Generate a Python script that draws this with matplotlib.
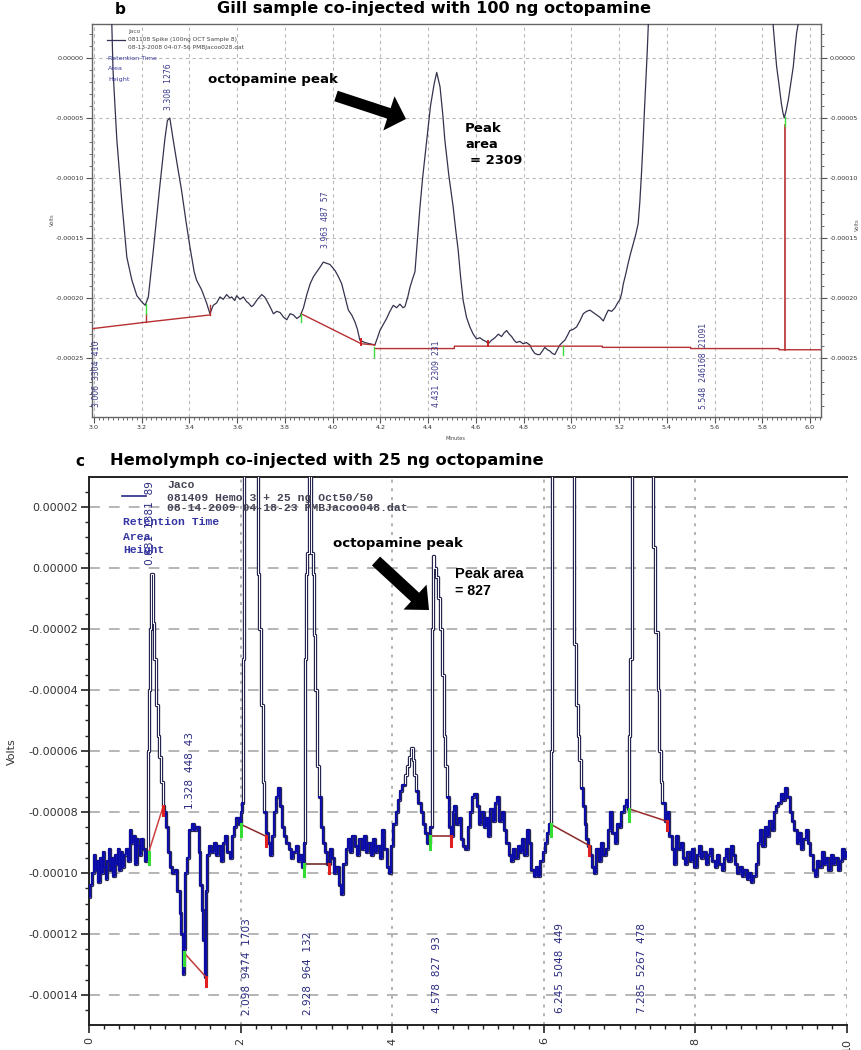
import numpy as np
import matplotlib
matplotlib.use("Agg")
import matplotlib.pyplot as plt
from matplotlib.ticker import MultipleLocator, FuncFormatter
from matplotlib.patches import FancyArrow

# ------------------------------------------------------------------
# DATA  (time in minutes, signal in microvolts)
# ------------------------------------------------------------------
# Panel b : gill sample
b_time = [3.060, 3.075, 3.080, 3.096, 3.117, 3.138, 3.159, 3.180, 3.200, 3.215,
          3.228, 3.249, 3.276, 3.297, 3.308, 3.318, 3.332, 3.350, 3.367, 3.385,
          3.402, 3.420, 3.430, 3.451, 3.472, 3.486, 3.500, 3.514, 3.528, 3.542,
          3.556, 3.570, 3.577, 3.590, 3.598, 3.612, 3.626, 3.640, 3.647, 3.660,
          3.668, 3.685, 3.703, 3.715, 3.724, 3.740, 3.752, 3.766, 3.780, 3.795,
          3.808, 3.822, 3.836, 3.850, 3.864, 3.878, 3.892, 3.906, 3.920, 3.934,
          3.948, 3.961, 3.975, 3.989, 4.010, 4.024, 4.038, 4.052, 4.066, 4.080,
          4.094, 4.104, 4.114, 4.125, 4.135, 4.156, 4.177, 4.188, 4.198, 4.212,
          4.226, 4.240, 4.254, 4.268, 4.282, 4.295, 4.303, 4.315, 4.324, 4.335,
          4.345, 4.356, 4.366, 4.377, 4.387, 4.398, 4.410, 4.425, 4.436, 4.450,
          4.462, 4.470, 4.487, 4.505, 4.515, 4.526, 4.536, 4.547, 4.561, 4.575,
          4.589, 4.603, 4.617, 4.631, 4.642, 4.652, 4.666, 4.680, 4.694, 4.708,
          4.718, 4.729, 4.740, 4.750, 4.760, 4.770, 4.784, 4.798, 4.812, 4.826,
          4.836, 4.847, 4.858, 4.868, 4.879, 4.889, 4.900, 4.910, 4.920, 4.931,
          4.941, 4.952, 4.962, 4.973, 4.984, 4.994, 5.008, 5.022, 5.036, 5.050,
          5.064, 5.078, 5.092, 5.106, 5.120, 5.134, 5.145, 5.155, 5.169, 5.183,
          5.194, 5.204, 5.211, 5.218, 5.228, 5.238, 5.248, 5.259, 5.270, 5.280,
          5.287, 5.294, 5.301, 5.306, 5.312, 5.318, 5.325, 5.330, 5.550, 5.840,
          5.846, 5.853, 5.860, 5.870, 5.880, 5.886, 5.892, 5.900, 5.909, 5.920,
          5.930, 5.937, 5.944, 5.952, 5.960]
b_signal_uV = [120, 28, -10, -68, -120, -166, -185, -198, -203, -206,
               -199, -160, -107, -68, -52, -50, -68, -90, -110, -135,
               -157, -178, -185, -193, -204, -213, -206, -204, -199, -201,
               -197, -200, -199, -202, -198, -201, -199, -203, -204, -207,
               -206, -201, -197, -199, -202, -208, -213, -211, -212, -216,
               -218, -213, -214, -217, -215, -208, -197, -188, -182, -178,
               -174, -170, -171, -172, -177, -182, -188, -199, -210, -214,
               -220, -226, -235, -236, -237, -238, -239, -233, -227, -222,
               -217, -211, -206, -208, -205, -208, -207, -199, -191, -184,
               -178, -150, -124, -100, -82, -62, -40, -22, -12, -24,
               -48, -68, -98, -124, -142, -160, -182, -202, -216, -224,
               -230, -234, -233, -235, -236, -238, -235, -233, -230, -232,
               -229, -227, -230, -232, -235, -237, -236, -238, -237, -239,
               -243, -246, -247, -247, -244, -241, -243, -244, -246, -247,
               -243, -239, -237, -235, -231, -227, -226, -224, -219, -213,
               -211, -210, -212, -214, -216, -219, -214, -210, -211, -208,
               -204, -201, -196, -188, -180, -171, -163, -155, -147, -138,
               -120, -96, -68, -45, -20, 5, 40, 80, 3000, 80,
               26, 10, -7, -22, -38, -45, -50, -44, -35, -20,
               -7, 8, 21, 30, 80]
b_base_time = [2.990, 3.220, 3.486, np.nan, 3.868, 4.120, 4.177, np.nan,
               4.177, 4.510, 4.510, 5.130, 5.130, 5.500, 5.500, 5.870, 5.870, 6.050]
b_base_uV = [-225.5, -220, -214, np.nan, -213, -238, -239, np.nan,
             -242, -242, -240, -240, -241, -241, -242, -242, -243, -243]
b_rt = [3.006, 3.308, 3.963, 4.431, 5.548]
b_area = ["3304", "1276", "487", "2309", "246168"]
b_height = ["410", "", "57", "231", "21091"]

# Panel c : hemolymph
c_time = [0.00, 0.02, 0.05, 0.07, 0.09, 0.11, 0.13, 0.15, 0.17, 0.19,
          0.21, 0.23, 0.25, 0.27, 0.29, 0.31, 0.33, 0.35, 0.37, 0.39,
          0.41, 0.43, 0.45, 0.47, 0.50, 0.53, 0.55, 0.57, 0.60, 0.62,
          0.64, 0.66, 0.68, 0.70, 0.72, 0.75, 0.77, 0.78, 0.79, 0.81,
          0.83, 0.85, 0.87, 0.89, 0.92, 0.94, 0.96, 0.98, 1.00, 1.03,
          1.05, 1.08, 1.11, 1.15, 1.18, 1.21, 1.23, 1.25, 1.26, 1.28,
          1.31, 1.34, 1.37, 1.40, 1.43, 1.46, 1.48, 1.50, 1.52, 1.54,
          1.55, 1.57, 1.60, 1.63, 1.66, 1.69, 1.72, 1.75, 1.78, 1.81,
          1.84, 1.87, 1.90, 1.93, 1.96, 1.99, 2.01, 2.03, 2.04, 2.05,
          2.22, 2.23, 2.26, 2.28, 2.30, 2.32, 2.34, 2.37, 2.40, 2.42,
          2.45, 2.48, 2.51, 2.54, 2.56, 2.59, 2.62, 2.65, 2.68, 2.71,
          2.74, 2.77, 2.80, 2.82, 2.84, 2.85, 2.87, 2.89, 2.92, 2.95,
          2.96, 2.97, 3.00, 3.02, 3.05, 3.07, 3.10, 3.13, 3.16, 3.19,
          3.22, 3.25, 3.28, 3.31, 3.34, 3.37, 3.40, 3.43, 3.46, 3.49,
          3.52, 3.55, 3.58, 3.61, 3.64, 3.67, 3.70, 3.73, 3.76, 3.79,
          3.82, 3.85, 3.88, 3.91, 3.94, 3.97, 4.00, 4.03, 4.06, 4.09,
          4.12, 4.15, 4.18, 4.21, 4.24, 4.26, 4.28, 4.30, 4.33, 4.36,
          4.39, 4.42, 4.45, 4.48, 4.51, 4.53, 4.54, 4.56, 4.59, 4.62,
          4.65, 4.67, 4.69, 4.71, 4.74, 4.77, 4.79, 4.81, 4.83, 4.86,
          4.89, 4.92, 4.95, 4.98, 5.01, 5.04, 5.07, 5.10, 5.13, 5.16,
          5.19, 5.22, 5.25, 5.28, 5.31, 5.34, 5.37, 5.40, 5.43, 5.46,
          5.49, 5.52, 5.55, 5.58, 5.61, 5.64, 5.67, 5.70, 5.73, 5.76,
          5.79, 5.82, 5.85, 5.88, 5.91, 5.94, 5.97, 6.00, 6.03, 6.06,
          6.08, 6.10, 6.12, 6.39, 6.40, 6.41, 6.43, 6.46, 6.48, 6.50,
          6.53, 6.55, 6.57, 6.60, 6.62, 6.65, 6.68, 6.71, 6.74, 6.77,
          6.80, 6.83, 6.86, 6.89, 6.92, 6.95, 6.98, 7.01, 7.04, 7.07,
          7.10, 7.12, 7.13, 7.15, 7.17, 7.43, 7.44, 7.49, 7.51, 7.53,
          7.55, 7.58, 7.61, 7.64, 7.67, 7.70, 7.73, 7.76, 7.79, 7.82,
          7.85, 7.88, 7.91, 7.94, 7.97, 8.00, 8.03, 8.06, 8.09, 8.12,
          8.15, 8.18, 8.21, 8.24, 8.27, 8.30, 8.33, 8.36, 8.39, 8.42,
          8.45, 8.48, 8.51, 8.54, 8.57, 8.60, 8.63, 8.66, 8.69, 8.72,
          8.75, 8.78, 8.81, 8.84, 8.87, 8.90, 8.93, 8.96, 8.99, 9.02,
          9.05, 9.08, 9.11, 9.14, 9.17, 9.20, 9.23, 9.26, 9.29, 9.32,
          9.35, 9.38, 9.41, 9.44, 9.47, 9.50, 9.53, 9.56, 9.59, 9.62,
          9.65, 9.68, 9.71, 9.74, 9.77, 9.80, 9.83, 9.86, 9.89, 9.92,
          9.95, 9.98, 10.0]
c_signal_uV = [-108, -104, -100, -94, -99, -96, -103, -95, -100, -93,
               -98, -102, -96, -92, -99, -95, -101, -94, -97, -92,
               -99, -93, -98, -94, -92, -96, -86, -90, -88, -97,
               -89, -91, -94, -89, -92, -96, -93, -60, -40, -20,
               -2, -18, -30, -45, -55, -62, -70, -78, -80, -85,
               -93, -98, -100, -99, -106, -113, -120, -133, -125, -100,
               -95, -86, -84, -86, -85, -93, -104, -112, -122, -134,
               -106, -94, -91, -93, -90, -94, -91, -96, -90, -88,
               -93, -95, -88, -85, -82, -84, -80, -77, -30, 200,
               200, -2, -20, -45, -70, -80, -87, -90, -94, -88,
               -80, -75, -72, -78, -85, -88, -90, -92, -95, -93,
               -91, -96, -94, -98, -90, -30, -2, 5, 200, 5,
               -2, -22, -40, -65, -75, -85, -90, -93, -97, -92,
               -95, -100, -98, -104, -107, -97, -92, -89, -93, -88,
               -91, -94, -89, -92, -88, -93, -90, -94, -89, -93,
               -91, -95, -86, -92, -98, -100, -91, -84, -80, -76,
               -73, -71, -68, -65, -62, -59, -63, -68, -73, -77,
               -80, -84, -87, -90, -85, -20, 4, 0, -3, -10,
               -20, -35, -55, -65, -75, -85, -88, -80, -78, -84,
               -82, -89, -91, -92, -85, -80, -75, -74, -78, -84,
               -80, -85, -82, -88, -79, -83, -77, -75, -83, -80,
               -86, -90, -94, -96, -92, -95, -91, -93, -89, -94,
               -86, -90, -99, -101, -98, -101, -96, -93, -90, -87,
               -84, -60, 200, 200, -5, -25, -45, -55, -63, -72,
               -78, -84, -89, -91, -94, -98, -100, -92, -96, -90,
               -94, -92, -86, -80, -87, -90, -84, -85, -80, -78,
               -76, -79, -55, -30, 200, 200, 7, -21, -40, -60,
               -70, -77, -83, -80, -88, -92, -97, -88, -92, -90,
               -95, -97, -93, -96, -92, -98, -94, -91, -95, -93,
               -97, -94, -92, -96, -98, -94, -97, -99, -95, -92,
               -96, -91, -94, -97, -100, -98, -101, -99, -102, -100,
               -103, -101, -97, -90, -86, -91, -85, -88, -83, -86,
               -80, -78, -77, -74, -76, -72, -75, -80, -83, -86,
               -90, -87, -92, -89, -86, -90, -94, -99, -101, -96,
               -98, -93, -97, -95, -99, -94, -97, -95, -99, -96,
               -92, -95, -93]
# integration baselines: start/end time and level
c_base_t0 = [0.79, 1.25, 2.00, 2.83, 4.50, 6.09, 7.13]
c_base_t1 = [0.98, 1.54, 2.34, 3.16, 4.78, 6.60, 7.62]
c_base_y0 = [-93, -126, -84, -97, -88, -84, -79]
c_base_y1 = [-78, -134, -88, -97, -88, -91, -83]
c_rt = [0.831, 1.328, 2.098, 2.928, 4.578, 6.245, 7.285]
c_area = ["1381", "448", "9474", "964", "827", "5048", "5267"]
c_height = ["89", "43", "1703", "132", "93", "449", "478"]

assert len(b_time) == len(b_signal_uV)
assert len(c_time) == len(c_signal_uV)

# ------------------------------------------------------------------
W, H = 861, 1050
fig = plt.figure(figsize=(W / 100, H / 100), dpi=100)
fig.patch.set_facecolor("white")


def T(px, py, s, **kw):
    return fig.text(px / W, 1 - py / H, s, **kw)


def fit_width(t, target):
    r = fig.canvas.get_renderer()
    w = t.get_window_extent(renderer=r).width
    t.set_fontsize(t.get_fontsize() * target / w)


def arrow_px(x0, y0, x1, y1, shaft, head_w, head_l):
    a = FancyArrow(x0 / 100, (H - y0) / 100, (x1 - x0) / 100, -(y1 - y0) / 100,
                   width=shaft / 100, head_width=head_w / 100, head_length=head_l / 100,
                   length_includes_head=True, transform=fig.dpi_scale_trans,
                   color="black", lw=0)
    fig.add_artist(a)


def volt_fmt(v, pos):
    s = f"{v:.5f}"
    if s == "-0.00000":
        s = "0.00000"
    return s


NAVY = "#2e2e88"

# ------------------------------------------------------------------
# PANEL b
# ------------------------------------------------------------------
axb = fig.add_axes([92 / W, 1 - 417 / H, (821 - 92) / W, (417 - 24) / H])
tb = np.array(b_time)
yb = np.array(b_signal_uV) * 1e-6
axb.plot(tb, yb, color="#33334f", lw=0.9, zorder=3)
bt = np.array(b_base_time)
bb = np.array(b_base_uV) * 1e-6
axb.plot(bt, bb, color="#b53030", lw=1.0, zorder=4)
# vertical drop lines and peak-boundary ticks
axb.plot([3.22, 3.22], [-220e-6, -213e-6], color="#b53030", lw=1.0, zorder=4)
axb.plot([3.486, 3.486], [-214e-6, -206e-6], color="#b53030", lw=1.0, zorder=4)
axb.plot([5.895, 5.895], [-243e-6, -56e-6], color="#b53030", lw=1.2, zorder=4)
for x, y0, y1 in [(3.22, -213, -205), (3.868, -213, -220), (4.175, -241, -249),
                  (4.965, -240, -247), (5.895, -57, -49)]:
    axb.plot([x, x], [y0 * 1e-6, y1 * 1e-6], color="#3ddc3d", lw=1.0, zorder=5)
for x, y0, y1 in [(4.12, -234, -239), (4.652, -236, -240)]:
    axb.plot([x, x], [y0 * 1e-6, y1 * 1e-6], color="#d02020", lw=1.4, zorder=5)

axb.set_xlim(2.992, 6.046)
axb.set_ylim(-299e-6, 28.3e-6)
axb.xaxis.set_major_locator(MultipleLocator(0.2))
axb.xaxis.set_minor_locator(MultipleLocator(0.02))
axb.yaxis.set_major_locator(MultipleLocator(50e-6))
axb.yaxis.set_minor_locator(MultipleLocator(10e-6))
axb.yaxis.set_major_formatter(FuncFormatter(volt_fmt))
axb.xaxis.set_major_formatter(FuncFormatter(lambda v, p: f"{v:.1f}"))
axb.tick_params(which="both", direction="out", color="#555555", labelcolor="#333333",
                labelsize=4.6, right=True, labelright=True, pad=2)
axb.tick_params(which="major", length=4, width=0.8)
axb.tick_params(which="minor", length=2, width=0.6)
for s in axb.spines.values():
    s.set_color("#666666")
    s.set_linewidth(1.0)
axb.grid(True, which="major", color="#b8b8b8", ls=(0, (3, 3)), lw=0.8)
axb.set_axisbelow(True)

b_label_y = [-291, -43, -158, -291, -292]
for rt, ar, ht, ly in zip(b_rt, b_area, b_height, b_label_y):
    lab = f"{rt:.3f}  {ar}  {ht}".strip()
    axb.text(rt + 0.006, ly * 1e-6, lab, rotation=90, ha="center", va="bottom",
             fontsize=5.6, color="#3a3a8c", zorder=6)

T(52, 220, "Volts", rotation=90, fontsize=3.8, color="#555555", ha="center", va="center")
T(857, 225, "Volts", rotation=90, fontsize=3.8, color="#555555", ha="center", va="center")
T(455, 438, "Minutes", fontsize=3.6, color="#444444", ha="center", va="center")

# legend block b
T(128, 31, "Jaco", fontsize=4.2, color="#555555", va="center")
T(128, 40, "081108 Spike (100ng OCT Sample 8)", fontsize=4.2, color="#444444", va="center")
T(128, 48, "08-13-2008 04-07-56 PMBJacoo028.dat", fontsize=4.2, color="#444444", va="center")
fig.add_artist(plt.Line2D([107 / W, 125 / W], [1 - 40 / H, 1 - 40 / H], color="#333355", lw=0.9))
T(108, 58, "Retention Time", fontsize=4.6, color="#3a3a9c", va="center")
T(108, 69, "Area", fontsize=4.6, color="#3a3a9c", va="center")
T(108, 80, "Height", fontsize=4.6, color="#3a3a9c", va="center")

# titles / annotations b
T(120, 9, "b", fontsize=11, fontweight="bold", ha="center", va="center")
tt = T(217, 9, "Gill sample co-injected with 100 ng octopamine", fontsize=11,
       fontweight="bold", ha="left", va="center")
fit_width(tt, 431)
op = T(208, 79, "octopamine peak", fontsize=10, fontweight="bold", ha="left", va="center")
fit_width(op, 130)
pa1 = T(465, 128, "Peak", fontsize=9, fontweight="bold", ha="left", va="center")
fit_width(pa1, 37)
pa2 = T(465, 145, "area", fontsize=9, fontweight="bold", ha="left", va="center")
fit_width(pa2, 33)
pa3 = T(470, 161, "= 2309", fontsize=9, fontweight="bold", ha="left", va="center")
fit_width(pa3, 53)
arrow_px(336, 96, 406, 119, 11, 36, 18)

# ------------------------------------------------------------------
# PANEL c
# ------------------------------------------------------------------
axc = fig.add_axes([89 / W, 1 - 1025 / H, (847 - 89) / W, (1025 - 477) / H])
tc = np.array(c_time)
yc = np.array(c_signal_uV) * 1e-6
axc.plot(tc, yc, drawstyle="steps-mid", color="#262650", lw=2.4, zorder=3)
axc.plot(tc, yc, drawstyle="steps-mid", color="white", lw=0.7, zorder=4)
low = np.where(yc < -70e-6, yc, np.nan)
axc.plot(tc, low, drawstyle="steps-mid", color="#0a0aa8", lw=1.4, zorder=5)

base_colors = ["#d04040", "#c03a3a", "#8a2a2a", "#6a1a1a", "#8a2020", "#8a2a2a", "#9a2a2a"]
for t0, t1, y0, y1, col in zip(c_base_t0, c_base_t1, c_base_y0, c_base_y1, base_colors):
    axc.plot([t0, t1], [y0 * 1e-6, y1 * 1e-6], color=col, lw=1.1, zorder=6)
    axc.plot([t0, t0], [y0 * 1e-6, (y0 - 4) * 1e-6], color="#33dd33", lw=2.2, zorder=7)
    axc.plot([t1, t1], [y1 * 1e-6, (y1 - 3) * 1e-6], color="#e02020", lw=2.2, zorder=7)

axc.set_xlim(0, 10)
axc.set_ylim(-149.8e-6, 29.8e-6)
axc.xaxis.set_major_locator(MultipleLocator(2))
axc.xaxis.set_minor_locator(MultipleLocator(0.2))
axc.yaxis.set_major_locator(MultipleLocator(20e-6))
axc.yaxis.set_minor_locator(MultipleLocator(5e-6))
axc.yaxis.set_major_formatter(FuncFormatter(volt_fmt))
axc.xaxis.set_major_formatter(FuncFormatter(lambda v, p: f"{v:.0f}"))
axc.tick_params(which="both", direction="out", color="#222222", labelcolor="#333333")
axc.tick_params(axis="y", labelsize=8, pad=2)
axc.tick_params(axis="x", labelsize=8, labelrotation=90, pad=3)
axc.tick_params(which="major", length=6, width=1.2)
axc.tick_params(which="minor", length=3, width=1.0)
for k, s in axc.spines.items():
    s.set_color("#222222")
    s.set_linewidth(1.4)
axc.spines["right"].set_visible(False)
axc.grid(True, which="major", axis="y", color="#b0b0b0", ls=(0, (6, 5)), lw=1.3)
axc.grid(True, which="major", axis="x", color="#b0b0b0", ls=(0, (1.5, 3)), lw=1.4)
axc.set_axisbelow(True)

c_label_x = [0.805, 1.33, 2.08, 2.89, 4.59, 6.21, 7.30]
c_label_y = [1, -79, -146.6, -146.6, -146, -146, -146]
for rt, ar, ht, lx, ly in zip(c_rt, c_area, c_height, c_label_x, c_label_y):
    axc.text(lx, ly * 1e-6, f"{rt:.3f}  {ar}  {ht}", rotation=90, ha="center", va="bottom",
             fontsize=7.6, color="#2a2a80", zorder=8)

T(12, 752, "Volts", rotation=90, fontsize=8, color="#333333", ha="center", va="center")

# legend block c
mono = dict(family="Liberation Mono", fontweight="bold", fontsize=8.2, va="center")
T(167, 485, "Jaco", color="#444455", **mono)
T(167, 498, "081409 Hemo 3 + 25 ng Oct50/50", color="#444455", **mono)
T(167, 508, "08-14-2009 04-18-23 PMBJacoo048.dat", color="#444455", **mono)
fig.add_artist(plt.Line2D([122 / W, 146 / W], [1 - 496 / H, 1 - 496 / H], color="#2a2a80", lw=1.2))
T(123, 522, "Retention Time", color="#3535a5", **mono)
T(123, 537, "Area", color="#3535a5", **mono)
T(123, 550, "Height", color="#3535a5", **mono)

# titles / annotations c
T(80, 462, "c", fontsize=11, fontweight="bold", ha="center", va="center")
tc_t = T(110, 460, "Hemolymph co-injected with 25 ng octopamine", fontsize=11,
         fontweight="bold", ha="left", va="center")
fit_width(tc_t, 430)
op2 = T(333, 543, "octopamine peak", fontsize=10, fontweight="bold", ha="left", va="center")
fit_width(op2, 130)
p1 = T(455, 574, "Peak area", family="Liberation Sans", fontsize=10, fontweight="bold",
       ha="left", va="center")
fit_width(p1, 68)
p2 = T(455, 591, "= 827", family="Liberation Sans", fontsize=10, fontweight="bold",
       ha="left", va="center")
fit_width(p2, 36)
arrow_px(376, 561, 429, 610, 12, 34, 19)

fig.savefig("out.png", dpi=100, facecolor="white")
